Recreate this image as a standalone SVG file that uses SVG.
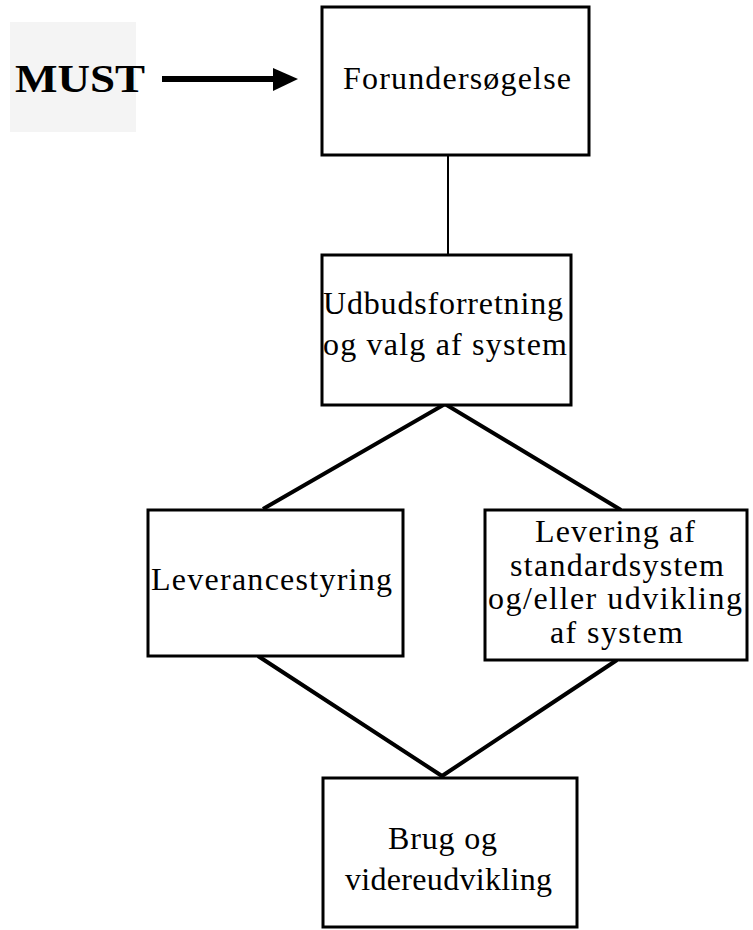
<svg xmlns="http://www.w3.org/2000/svg" width="753" height="930" viewBox="0 0 753 930">
<style>
.box{fill:#fff;stroke:#000;stroke-width:3}
.t{font-family:"Liberation Serif","Times New Roman",serif;font-size:32px;fill:#000}
.c{stroke:#000;fill:none;stroke-width:4;stroke-linejoin:miter}
</style>
<rect width="753" height="930" fill="#fff"/>
<g id="must">
<rect x="10" y="22" width="126" height="110" fill="#f4f4f4"/>
<text x="15" y="92" font-family="Liberation Serif,serif" font-weight="bold" font-size="41" textLength="130" lengthAdjust="spacingAndGlyphs">MUST</text>
</g>
<g id="connectors">
<line x1="162" y1="79" x2="276" y2="79" stroke="#000" stroke-width="6"/>
<polygon points="273,68 298,79 273,91" fill="#000"/>
<line x1="448" y1="155" x2="448" y2="255" stroke="#000" stroke-width="2"/>
<polyline class="c" points="263,509 445,404 621,510"/>
<polyline class="c" points="258,656 442,776 617,660"/>
</g>
<g id="forundersogelse">
<rect class="box" x="322" y="7" width="267" height="148"/>
<text class="t" x="343" y="89" textLength="228" lengthAdjust="spacing">Forundersøgelse</text>
</g>
<g id="udbud">
<rect class="box" x="322" y="255" width="249" height="150"/>
<text class="t" x="323" y="314" textLength="240" lengthAdjust="spacing">Udbudsforretning</text>
<text class="t" x="323" y="355" textLength="244" lengthAdjust="spacing">og valg af system</text>
</g>
<g id="leverancestyring">
<rect class="box" x="148" y="510" width="255" height="146"/>
<text class="t" x="151" y="590" textLength="241" lengthAdjust="spacing">Leverancestyring</text>
</g>
<g id="levering">
<rect class="box" x="485" y="510" width="262" height="150"/>
<text class="t" x="535" y="542" textLength="160" lengthAdjust="spacing">Levering af</text>
<text class="t" x="510" y="576" textLength="214" lengthAdjust="spacing">standardsystem</text>
<text class="t" x="488" y="609" textLength="254" lengthAdjust="spacing">og/eller udvikling</text>
<text class="t" x="550" y="643" textLength="133" lengthAdjust="spacing">af system</text>
</g>
<g id="brug">
<rect class="box" x="323" y="778" width="254" height="149"/>
<text class="t" x="388" y="849" textLength="109" lengthAdjust="spacing">Brug og</text>
<text class="t" x="345" y="890" textLength="207" lengthAdjust="spacing">videreudvikling</text>
</g>
</svg>
